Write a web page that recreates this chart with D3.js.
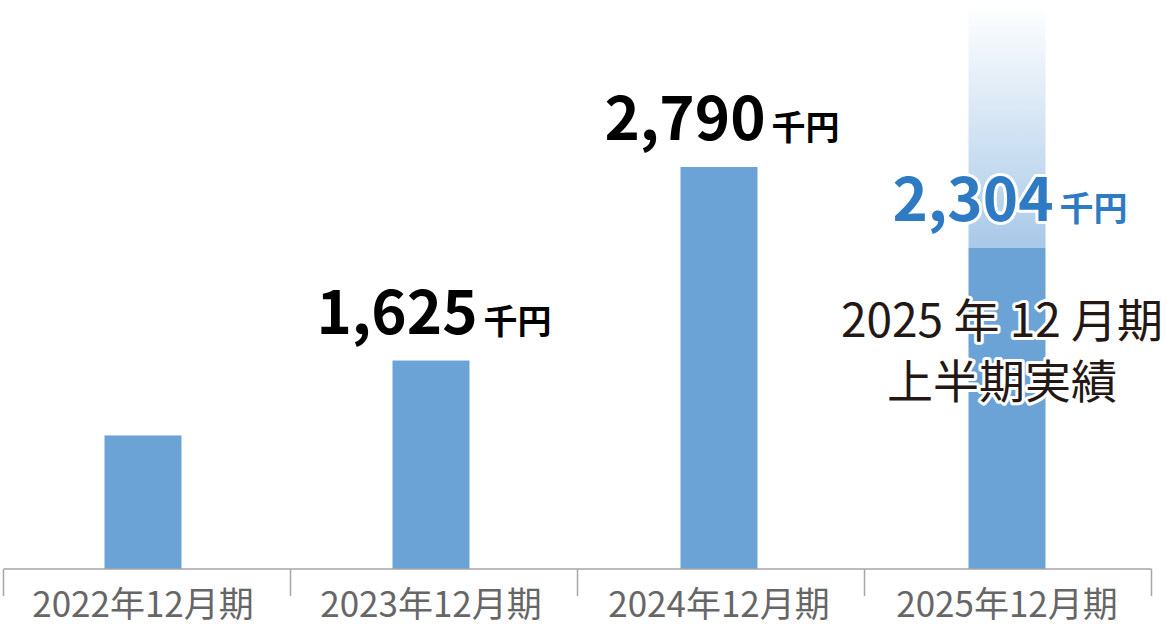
<!DOCTYPE html>
<html><head><meta charset="utf-8">
<script src="https://cdn.jsdelivr.net/npm/d3@7"></script>
<style>
html,body{margin:0;padding:0;background:#fff;}
svg{display:block;font-family:"Noto Sans CJK JP","Noto Sans",sans-serif;}
</style></head>
<body>
<svg id="chart" width="1167" height="626"></svg>
<script>
const categories = ["2022年12月期","2023年12月期","2024年12月期","2025年12月期"];
const values = [1174, 1625, 2790, 2304];
const valueLabels = [null, "1,625", "2,790", "2,304"];
const unitLabel = "千円";
const noteLines = ["2025 年 12 月期", "上半期実績"];

const svg = d3.select("#chart");
const baseY = 569;
const y = d3.scaleLinear().domain([370, 2790]).range([baseY, 167]);
const xBar = d3.scaleBand().domain(categories).range([-1, 1151]);
const xAxis = d3.scaleBand().domain(categories).range([3.5, 1151.5]);
const barW = 77;

const defs = svg.append("defs");
const grad = defs.append("linearGradient").attr("id","fade").attr("x1",0).attr("y1",0).attr("x2",0).attr("y2",1);
grad.append("stop").attr("offset","0%").attr("stop-color","#ffffff");
grad.append("stop").attr("offset","100%").attr("stop-color","#a9c9e8");

// gradient projection above last bar
const last = categories.length - 1;
svg.append("rect")
  .attr("x", xBar(categories[last]) + xBar.bandwidth()/2 - barW/2)
  .attr("y", 5)
  .attr("width", barW)
  .attr("height", y(values[last]) - 5)
  .attr("fill", "url(#fade)");

// bars
svg.selectAll("rect.bar").data(categories).enter().append("rect")
  .attr("class","bar")
  .attr("x", d => xBar(d) + xBar.bandwidth()/2 - barW/2)
  .attr("y", (d,i) => y(values[i]))
  .attr("width", barW)
  .attr("height", (d,i) => baseY - y(values[i]))
  .attr("fill", "#6ca3d6");

// axis
const ax = svg.append("g").attr("stroke","#a6a6a6").attr("stroke-width",1.5);
ax.append("line").attr("x1", xAxis.range()[0]).attr("x2", xAxis.range()[1]).attr("y1", baseY).attr("y2", baseY);
const tickXs = categories.map(c => xAxis(c)).concat([xAxis.range()[1]]);
ax.selectAll("line.tick").data(tickXs).enter().append("line")
  .attr("x1", d => d).attr("x2", d => d).attr("y1", baseY).attr("y2", 596);

svg.selectAll("text.cat").data(categories).enter().append("text")
  .attr("x", d => xBar(d) + xBar.bandwidth()/2)
  .attr("y", 617)
  .attr("text-anchor","middle")
  .attr("font-size", 35)
  .attr("fill", "#666666")
  .text(d => d);

// annotation for last bar
const note = svg.append("text")
  .attr("x", 1002).attr("y", 337)
  .attr("text-anchor","middle")
  .attr("font-size", 46)
  .attr("fill","#231815")
  .attr("stroke","#ffffff").attr("stroke-width",6).attr("stroke-linejoin","round")
  .attr("paint-order","stroke");
noteLines.forEach((t,i) => {
  note.append("tspan").attr("x",1002).attr("dy", i === 0 ? 0 : 61).text(t);
});

// value labels
categories.forEach((c,i) => {
  if (!valueLabels[i]) return;
  const isLast = i === last;
  const t = svg.append("text")
    .attr("x", xBar(c) + xBar.bandwidth()/2 + 3)
    .attr("y", y(values[i]) - 27)
    .attr("text-anchor","middle")
    .attr("font-weight", 700)
    .attr("fill", isLast ? "#2f7bc3" : "#000000");
  if (isLast) t.attr("stroke","#ffffff").attr("stroke-width",6).attr("stroke-linejoin","round").attr("paint-order","stroke");
  t.append("tspan").attr("font-size", 60).text(valueLabels[i]);
  t.append("tspan").attr("font-size", 34).attr("dx", 6).text(unitLabel);
});
</script>
</body></html>
